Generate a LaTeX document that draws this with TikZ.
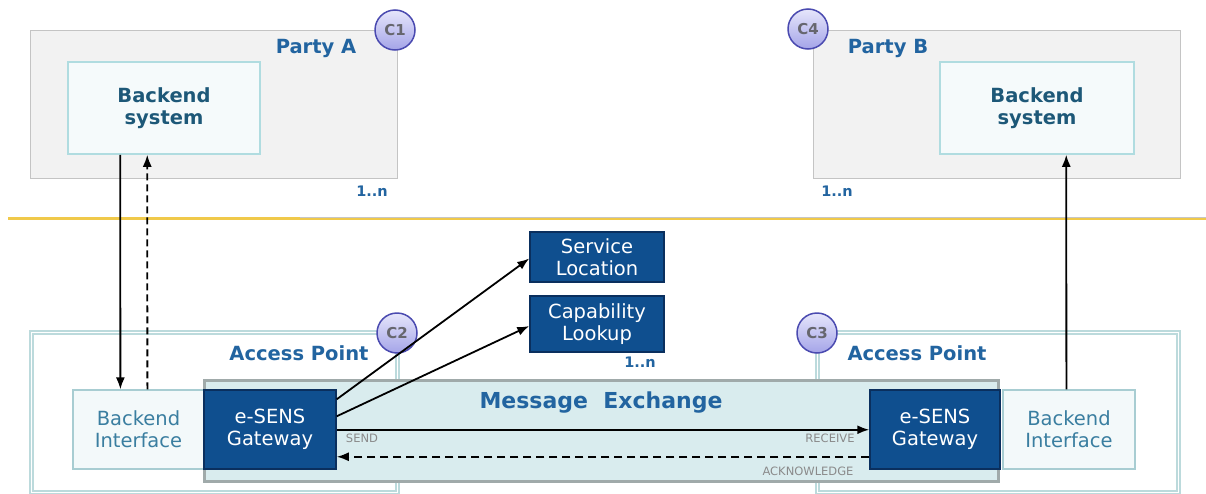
\documentclass[tikz,border=0pt]{standalone}
\usepackage{fontspec}
\setmainfont{DejaVu Sans}
\usetikzlibrary{arrows.meta,calc}
\definecolor{partyfill}{HTML}{F2F2F2}
\definecolor{partybord}{HTML}{C4C4C4}
\definecolor{bsfill}{HTML}{F5FAFB}
\definecolor{bsbord}{HTML}{B0DCE0}
\definecolor{bifill}{HTML}{F3F9FA}
\definecolor{bibord}{HTML}{A8CDD2}
\definecolor{bitext}{HTML}{3A7EA0}
\definecolor{titletext}{HTML}{2264A0}
\definecolor{bstext}{HTML}{1D5878}
\definecolor{gwfill}{HTML}{0F4F8F}
\definecolor{gwbord}{HTML}{0A2F5E}
\definecolor{mxfill}{HTML}{D9ECEE}
\definecolor{mxbord}{HTML}{A0AAAA}
\definecolor{apbord}{HTML}{BCDADC}
\definecolor{circtop}{HTML}{E6E6FB}
\definecolor{circbot}{HTML}{A4A4E8}
\definecolor{circbord}{HTML}{4A4AB0}
\definecolor{ctext}{HTML}{66666E}
\definecolor{smalltext}{HTML}{8A8A8A}
\definecolor{yline}{HTML}{F0C94A}
\tikzset{
  partybox/.style={draw=partybord, fill=partyfill, line width=1pt, inner sep=0pt},
  bsbox/.style={draw=bsbord, fill=bsfill, line width=1.5pt, inner sep=0pt, align=center,
    text=bstext, font=\fontsize{19.5}{22}\selectfont\bfseries},
  apbox/.style={draw=apbord, double=white, double distance=1pt, line width=2pt, inner sep=0pt},
  mxbox/.style={draw=mxbord, fill=mxfill, line width=3pt, inner sep=0pt},
  bibox/.style={draw=bibord, fill=bifill, line width=1.2pt, inner sep=0pt, align=center,
    text=bitext, font=\fontsize{19.5}{22}\selectfont},
  gwbox/.style={draw=gwbord, fill=gwfill, line width=1.5pt, inner sep=0pt, align=center,
    text=white, font=\fontsize{19.5}{22}\selectfont},
  title/.style={text=titletext, font=\fontsize{19.5}{22}\selectfont\bfseries, inner sep=0pt},
  mult/.style={text=titletext, font=\fontsize{14.5}{16}\selectfont\bfseries, inner sep=0pt},
  cnum/.style={circle, draw=circbord, line width=1.5pt, top color=circtop, bottom color=circbot,
    minimum size=40pt, inner sep=0pt, text=ctext, font=\fontsize{15}{17}\selectfont\bfseries},
  lbl/.style={text=smalltext, font=\fontsize{11.5}{13}\selectfont, inner sep=0pt},
  arr/.style={line width=1.8pt, -{Latex[length=12pt,width=9pt]}},
}
\begin{document}
\begin{tikzpicture}[x=1pt,y=-1pt]
\useasboundingbox (0,0) rectangle (1206,493);
\fill[white] (0,0) rectangle (1206,493);

% Party A
\node[partybox, minimum width=367pt, minimum height=148pt] (pA) at (213.5,104) {};
\node[bsbox, minimum width=192pt, minimum height=92pt] (bsA) at (164,108) {Backend\\system};
\node[title] (tA) at (316,48) {Party A};
\node[mult] (mA) at (372,191) {1..n};
\node[cnum] (c1) at (395,30) {C1};

% Party B
\node[partybox, minimum width=367pt, minimum height=148pt] (pB) at (996.5,104) {};
\node[bsbox, minimum width=194pt, minimum height=92pt] (bsB) at (1037,108) {Backend\\system};
\node[title] (tB) at (888,48) {Party B};
\node[mult] (mB) at (837,191) {1..n};
\node[cnum] (c4) at (808,29) {C4};

% separator
\draw[yline, line width=3pt] (8,218) -- (1206,218);
\draw[gray!45, line width=0.6pt] (300,216.8) -- (1206,216.8);

% Services
\node[gwbox, minimum width=134pt, minimum height=50pt] (svc) at (597,257) {Service\\Location};
\node[gwbox, minimum width=134pt, minimum height=56pt] (cap) at (597,324) {Capability\\Lookup};
\node[mult] (mC) at (640,362) {1..n};

% Access points
\node[apbox, minimum width=366pt, minimum height=160pt] (apL) at (214,412) {};
\node[apbox, minimum width=361pt, minimum height=160pt] (apR) at (997.5,412) {};
\node[title] (tapL) at (299,353) {Access Point};
\node[title] (tapR) at (917,353) {Access Point};

% Message exchange
\node[mxbox, minimum width=794pt, minimum height=101pt] (mx) at (601.5,431) {};
\node[text=titletext, font=\fontsize{22}{24}\selectfont\bfseries, inner sep=0pt] (tmx) at (601,403) {Message\ \ Exchange};

% inner boxes
\node[bibox, minimum width=131pt, minimum height=79pt] (biL) at (138.5,429.5) {Backend\\Interface};
\node[gwbox, minimum width=132pt, minimum height=79pt] (gwL) at (270,429.5) {e-SENS\\Gateway};
\node[gwbox, minimum width=130pt, minimum height=79pt] (gwR) at (935,429.5) {e-SENS\\Gateway};
\node[bibox, minimum width=132pt, minimum height=79pt] (biR) at (1069,429.5) {Backend\\Interface};

\node[cnum] (c2) at (397,333) {C2};
\node[cnum] (c3) at (817,333) {C3};

% connectors
\draw[arr] ($(bsA.south west)+(53,0)$) -- ($(biL.north west)+(48,0)$);
\draw[arr, dash pattern=on 7pt off 4pt] ($(biL.north west)+(75,0)$) -- ($(bsA.south west)+(80,0)$);
\draw[arr] ($(biR.north west)+(64,0)$) -- ($(bsB.south west)+(127,0)$);
\draw[arr] ($(gwL.north east)+(0,10)$) -- ($(svc.west)+(0,1.5)$);
\draw[arr] ($(gwL.north east)+(0,27)$) -- ($(cap.west)+(0,2)$);
\draw[arr] ($(gwL.south east)+(0,-40)$) -- ($(gwR.south west)+(0,-40)$);
\draw[arr, dash pattern=on 8pt off 5pt] ($(gwR.south west)+(0,-13)$) -- ($(gwL.south east)+(0,-13)$);

\node[lbl] (lsend) at (362,438) {SEND};
\node[lbl] (lrecv) at (830,438) {RECEIVE};
\node[lbl] (lack) at (808,471) {ACKNOWLEDGE};
\end{tikzpicture}
\end{document}
